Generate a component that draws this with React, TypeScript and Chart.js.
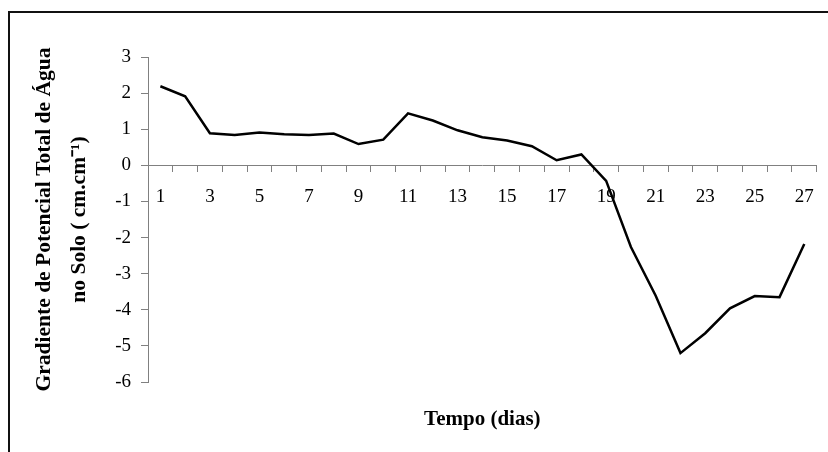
import React, { useEffect, useRef } from 'react';
import { Chart, registerables } from 'chart.js';

Chart.register(...registerables);

const days = ['1', '2', '3', '4', '5', '6', '7', '8', '9', '10', '11', '12', '13', '14', '15', '16', '17', '18', '19', '20', '21', '22', '23', '24', '25', '26', '27'];
const gradient = [2.19, 1.91, 0.89, 0.84, 0.91, 0.86, 0.84, 0.88, 0.59, 0.71, 1.44, 1.24, 0.97, 0.78, 0.69, 0.53, 0.14, 0.3, -0.43, -2.26, -3.61, -5.2, -4.65, -3.96, -3.62, -3.65, -2.18];
const yMin = -6;
const yMax = 3;
const yStep = 1;
const yTitleLines = ['Gradiente de Potencial Total de Água', 'no Solo ( cm.cm\u207B\u00B9)'];
const xTitle = 'Tempo (dias)';

export default function App() {
  const ref = useRef<HTMLCanvasElement>(null);

  useEffect(() => {
    Chart.defaults.font.family = "'Liberation Serif', 'Times New Roman', serif";
    const axisGray = '#808080';
    const chart = new Chart(ref.current as HTMLCanvasElement, {
      type: 'line',
      data: {
        labels: days,
        datasets: [
          {
            data: gradient,
            borderColor: '#000',
            borderWidth: 2.5,
            pointRadius: 0,
            tension: 0,
            fill: false,
            xAxisID: 'x',
            yAxisID: 'y',
          },
        ],
      },
      options: {
        responsive: false,
        animation: false,
        devicePixelRatio: 1,
        layout: { padding: { top: 57, right: 10, left: 0, bottom: 0 } },
        plugins: { legend: { display: false }, tooltip: { enabled: false } },
        scales: {
          x: {
            type: 'category',
            axis: 'x',
            position: { y: 0 } as any,
            offset: true,
            grid: { offset: true, drawOnChartArea: false, tickLength: 6, color: axisGray, lineWidth: 1 },
            border: { color: axisGray, width: 1 },
            ticks: {
              autoSkip: false,
              maxRotation: 0,
              minRotation: 0,
              padding: 14,
              color: '#000',
              font: { size: 19 },
              callback: (_v: any, i: number) => (i % 2 === 0 ? days[i] : ''),
            },
          },
          x2: {
            type: 'category',
            axis: 'x',
            position: 'bottom',
            grid: { display: false, drawTicks: false },
            border: { display: false },
            ticks: { display: false },
            title: {
              display: true,
              text: xTitle,
              color: '#000',
              font: { size: 21, weight: 'bold' },
              padding: { top: 23, bottom: 20 },
            },
            afterFit: (s: any) => {
              s.height = 70;
            },
          },
          y: {
            type: 'linear',
            position: 'left',
            min: yMin,
            max: yMax,
            ticks: { stepSize: yStep, padding: 10, color: '#000', font: { size: 19 } },
            grid: { drawOnChartArea: false, tickLength: 7, color: axisGray, lineWidth: 1 },
            border: { color: axisGray, width: 1 },
            title: {
              display: true,
              text: yTitleLines,
              color: '#000',
              font: { size: 21.5, weight: 'bold', lineHeight: 1.63 },
              padding: { top: 27, bottom: 0 },
            },
            afterFit: (s: any) => {
              s.width = 148;
            },
          },
        },
      } as any,
    });
    return () => chart.destroy();
  }, []);

  return (
    <div style={{ position: 'fixed', left: 0, top: 0, width: 828, height: 452, overflow: 'hidden', background: '#fff' }}>
      <div
        style={{
          position: 'absolute',
          left: 8,
          top: 11,
          width: 1000,
          height: 1000,
          borderLeft: '2px solid #111',
          borderTop: '2px solid #111',
        }}
      />
      <canvas ref={ref} width={828} height={452} style={{ position: 'absolute', left: 0, top: 0, display: 'block' }} />
    </div>
  );
}
